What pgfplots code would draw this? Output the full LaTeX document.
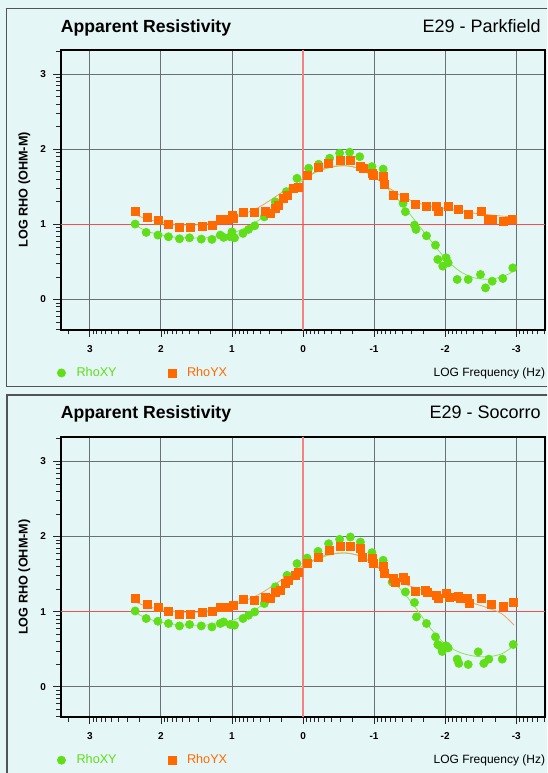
\documentclass[border=0pt]{standalone}
\usepackage{fontspec}
\setmainfont{Liberation Sans}
\usepackage{pgfplots}
\usepackage{pgfplotstable}
\pgfplotsset{compat=1.18}

\definecolor{bg}{RGB}{228,246,246}
\definecolor{framec}{RGB}{80,84,88}
\definecolor{gxy}{RGB}{96,222,24}
\definecolor{oyx}{RGB}{255,106,0}
\definecolor{gfit}{RGB}{140,228,90}
\definecolor{ofit}{RGB}{245,160,95}
\definecolor{gridc}{RGB}{105,112,120}
\definecolor{redv}{RGB}{245,130,130}
\definecolor{redh}{RGB}{240,80,80}

% ---- Parkfield ----
\pgfplotstableread{
x y
2.362 1.004
2.207 0.893
2.042 0.857
1.893 0.835
1.738 0.808
1.597 0.821
1.432 0.804
1.282 0.800
1.165 0.857
1.118 0.827
1.024 0.835
1.000 0.900
0.963 0.821
0.845 0.880
0.766 0.933
0.680 0.981
0.545 1.100
0.390 1.300
0.235 1.435
0.085 1.613
-0.079 1.747
-0.220 1.800
-0.375 1.880
-0.515 1.947
-0.656 1.960
-0.797 1.900
-0.970 1.768
-1.127 1.735
-1.268 1.390
-1.408 1.280
-1.440 1.168
-1.568 0.990
-1.590 0.933
-1.737 0.848
-1.863 0.724
-1.896 0.533
-1.966 0.444
-2.014 0.555
-2.042 0.488
-2.169 0.267
-2.324 0.267
-2.497 0.333
-2.568 0.155
-2.662 0.244
-2.811 0.280
-2.952 0.421
}\xyA

\pgfplotstableread{
x y
2.362 1.177
2.197 1.088
2.034 1.057
1.893 1.004
1.738 0.960
1.587 0.955
1.423 0.980
1.273 0.990
1.165 1.067
1.070 1.070
0.996 1.124
0.976 1.080
0.837 1.160
0.680 1.155
0.531 1.180
0.460 1.147
0.390 1.213
0.344 1.257
0.273 1.347
0.225 1.390
0.132 1.480
0.062 1.500
-0.056 1.657
-0.220 1.760
-0.360 1.813
-0.525 1.857
-0.666 1.857
-0.807 1.768
-0.845 1.747
-0.970 1.680
-0.994 1.648
-1.127 1.635
-1.145 1.533
-1.268 1.381
-1.427 1.355
-1.582 1.267
-1.737 1.235
-1.877 1.235
-1.896 1.168
-2.042 1.235
-2.190 1.200
-2.332 1.133
-2.507 1.168
-2.600 1.071
-2.660 1.071
-2.811 1.035
-2.950 1.067
}\yxA

\pgfplotstableread{
x y
2.36 0.99
2.2 0.91
2.0 0.86
1.8 0.83
1.6 0.82
1.4 0.82
1.2 0.84
1.0 0.88
0.8 0.96
0.6 1.07
0.4 1.24
0.2 1.43
0.0 1.59
-0.2 1.70
-0.4 1.76
-0.6 1.78
-0.8 1.74
-1.0 1.64
-1.2 1.47
-1.4 1.26
-1.6 1.02
-1.8 0.78
-2.0 0.55
-2.2 0.38
-2.4 0.29
-2.6 0.27
-2.8 0.30
-2.95 0.37
}\fxyA

\pgfplotstableread{
x y
2.36 1.13
2.2 1.07
2.0 1.03
1.8 1.00
1.6 0.99
1.4 1.00
1.2 1.03
1.0 1.08
0.8 1.15
0.6 1.24
0.4 1.36
0.2 1.49
0.0 1.61
-0.2 1.71
-0.4 1.77
-0.6 1.78
-0.8 1.74
-1.0 1.63
-1.2 1.49
-1.4 1.37
-1.6 1.29
-1.8 1.24
-2.0 1.21
-2.2 1.18
-2.4 1.15
-2.6 1.13
-2.8 1.11
-2.95 1.10
}\fyxA

% ---- Socorro ----
\pgfplotstableread{
x y
2.362 1.009
2.207 0.908
2.042 0.872
1.893 0.842
1.738 0.810
1.597 0.829
1.432 0.810
1.282 0.797
1.165 0.842
1.118 0.863
1.024 0.829
0.963 0.820
0.845 0.908
0.766 0.952
0.680 0.996
0.545 1.107
0.390 1.330
0.225 1.483
0.085 1.639
-0.056 1.713
-0.211 1.802
-0.360 1.904
-0.515 1.962
-0.666 1.992
-0.807 1.926
-0.970 1.785
-1.127 1.683
-1.135 1.616
-1.254 1.394
-1.441 1.262
-1.568 1.121
-1.596 0.930
-1.737 0.842
-1.863 0.664
-1.896 0.563
-1.924 0.545
-1.958 0.470
-2.014 0.545
-2.042 0.518
-2.169 0.368
-2.192 0.311
-2.324 0.297
-2.465 0.465
-2.544 0.311
-2.614 0.368
-2.803 0.368
-2.958 0.563
}\xyB

\pgfplotstableread{
x y
2.362 1.174
2.197 1.094
2.034 1.054
1.893 1.009
1.738 0.965
1.587 0.961
1.423 0.996
1.273 1.005
1.165 1.054
1.070 1.062
0.977 1.085
0.837 1.165
0.680 1.151
0.531 1.195
0.460 1.182
0.390 1.262
0.320 1.284
0.250 1.373
0.203 1.417
0.108 1.483
0.062 1.527
-0.056 1.639
-0.220 1.726
-0.375 1.815
-0.525 1.873
-0.666 1.873
-0.807 1.838
-0.831 1.726
-0.970 1.713
-0.994 1.639
-1.127 1.607
-1.145 1.506
-1.268 1.440
-1.300 1.394
-1.417 1.461
-1.441 1.417
-1.582 1.271
-1.723 1.284
-1.746 1.253
-1.877 1.218
-1.896 1.174
-2.018 1.240
-2.051 1.195
-2.183 1.208
-2.206 1.174
-2.318 1.174
-2.346 1.115
-2.507 1.174
-2.648 1.094
-2.811 1.076
-2.952 1.121
}\yxB

\pgfplotstableread{
x y
2.36 0.99
2.2 0.91
2.0 0.86
1.8 0.83
1.6 0.82
1.4 0.82
1.2 0.84
1.0 0.88
0.8 0.96
0.6 1.07
0.4 1.24
0.2 1.43
0.0 1.59
-0.2 1.70
-0.4 1.76
-0.6 1.78
-0.8 1.74
-1.0 1.63
-1.2 1.46
-1.4 1.27
-1.6 1.03
-1.8 0.77
-2.0 0.57
-2.2 0.46
-2.4 0.41
-2.6 0.40
-2.8 0.44
-2.97 0.55
}\fxyB

\pgfplotstableread{
x y
2.36 1.13
2.2 1.07
2.0 1.03
1.8 1.00
1.6 0.99
1.4 1.00
1.2 1.03
1.0 1.08
0.8 1.15
0.6 1.24
0.4 1.36
0.2 1.49
0.0 1.61
-0.2 1.71
-0.4 1.77
-0.6 1.78
-0.8 1.74
-1.0 1.63
-1.2 1.49
-1.4 1.38
-1.6 1.31
-1.8 1.25
-2.0 1.21
-2.2 1.16
-2.4 1.11
-2.6 1.05
-2.8 0.97
-2.97 0.82
}\fyxB

\pgfplotsset{
  legend image code/.code={\draw[mark repeat=2,mark phase=2,#1] plot coordinates {(0pt,0pt) (5pt,0pt) (10pt,0pt)};},
  mtpanel/.style={
    scale only axis, width=363.5pt, height=209.7pt,
    x dir=reverse, xmin=-3.41, xmax=3.41, ymin=-0.4, ymax=3.32,
    axis line style={black, line width=1.5pt},
    xtick pos=bottom, ytick pos=left,
    tick align=outside,
    major tick length=5.5pt, minor tick length=3.5pt,
    tick style={black!85, line width=0.5pt},
    xtick={-3,-2,-1,1,2,3}, xticklabels={-3,-2,-1,1,2,3},
    ytick={0,2,3}, yticklabels={0,2,3},
    extra x ticks={0}, extra x tick labels={0},
    extra y ticks={1}, extra y tick labels={1},
    extra x tick style={major grid style={redv, line width=0.9pt}},
    extra y tick style={major grid style={redh, line width=0.75pt}},
    minor xtick={3.301,2.954,2.903,2.845,2.778,2.699,2.602,2.477,2.301,
      1.954,1.903,1.845,1.778,1.699,1.602,1.477,1.301,
      0.954,0.903,0.845,0.778,0.699,0.602,0.477,0.301,
      -0.046,-0.097,-0.155,-0.222,-0.301,-0.398,-0.523,-0.699,
      -1.046,-1.097,-1.155,-1.222,-1.301,-1.398,-1.523,-1.699,
      -2.046,-2.097,-2.155,-2.222,-2.301,-2.398,-2.523,-2.699,
      -3.046,-3.097,-3.155,-3.222,-3.301,-3.398},
    minor ytick={-0.046,-0.097,-0.155,-0.222,-0.301,-0.398,
      0.301,0.477,0.602,0.699,0.778,0.845,0.903,0.954,
      1.301,1.477,1.602,1.699,1.778,1.845,1.903,1.954,
      2.301,2.477,2.602,2.699,2.778,2.845,2.903,2.954,3.301},
    grid=major, major grid style={gridc, line width=0.6pt},
    ticklabel style={font=\bfseries\fontsize{7.5}{9}\selectfont},
    xticklabel style={yshift=-3pt},
    yticklabel style={xshift=-2pt},
    xlabel={LOG Frequency (Hz)},
    xlabel style={at={(axis description cs:1,-0.155)}, anchor=east, inner sep=0pt,
      font=\fontsize{9}{11}\selectfont},
    ylabel={LOG RHO (OHM-M)},
    ylabel style={at={(axis description cs:-0.075,0.5)}, anchor=center, inner sep=0pt,
      font=\bfseries\fontsize{9.5}{11}\selectfont},
    legend style={at={(axis description cs:-0.007,-0.155)}, anchor=west,
      draw=none, fill=none, inner sep=0pt, outer sep=0pt,
      legend columns=2, font=\fontsize{9.5}{11}\selectfont,
      /tikz/every odd column/.append style={column sep=6.25pt},
      /tikz/every even column/.append style={column sep=36.5pt}},
    legend cell align=left,
    clip=false,
  },
  fitline/.style={line width=0.6pt, smooth, no markers, forget plot},
  xymark/.style={only marks, mark=*, mark size=3.1pt, color=gxy, mark options={fill=gxy, draw=gxy}},
  yxmark/.style={only marks, mark=square*, mark size=3.0pt, color=oyx, mark options={fill=oyx, draw=oyx}},
}

\begin{document}
\begin{tikzpicture}
\path[use as bounding box] (0,0) rectangle (410.25pt,579.75pt);
\clip (0,0) rectangle (410.25pt,579.75pt);
\begin{scope}[x=0.75pt,y=0.75pt]
  \fill[bg] (0,0) rectangle (547,773);
  \draw[framec, line width=0.8pt] (6.3,764.7) rectangle (600,386.3);
  \draw[framec, line width=0.8pt] (7,378) rectangle (600,-10);
  \node[anchor=base west, inner sep=0pt, font=\bfseries\fontsize{13.2}{15}\selectfont] at (60.7,740.6) {Apparent Resistivity};
  \node[anchor=base east, inner sep=0pt, font=\fontsize{13.5}{15}\selectfont] at (541,740.6) {E29 - Parkfield};
  \node[anchor=base west, inner sep=0pt, font=\bfseries\fontsize{13.2}{15}\selectfont] at (60.7,354) {Apparent Resistivity};
  \node[anchor=base east, inner sep=0pt, font=\fontsize{13.5}{15}\selectfont] at (541,354) {E29 - Socorro};
\end{scope}

\begin{axis}[mtpanel, at={(45.525pt,332.55pt)}, anchor=south west]
  \addplot[fitline, gfit] table {\fxyA};
  \addplot[fitline, ofit] table {\fyxA};
  \addplot[xymark] table {\xyA};
  \addlegendentry{\textcolor{gxy}{RhoXY}}
  \addplot[yxmark] table {\yxA};
  \addlegendentry{\textcolor{oyx}{RhoYX}}
\end{axis}

\begin{axis}[mtpanel, at={(45.525pt,42.1pt)}, anchor=south west]
  \addplot[fitline, gfit] table {\fxyB};
  \addplot[fitline, ofit] table {\fyxB};
  \addplot[xymark] table {\xyB};
  \addlegendentry{\textcolor{gxy}{RhoXY}}
  \addplot[yxmark] table {\yxB};
  \addlegendentry{\textcolor{oyx}{RhoYX}}
\end{axis}
\end{tikzpicture}
\end{document}
